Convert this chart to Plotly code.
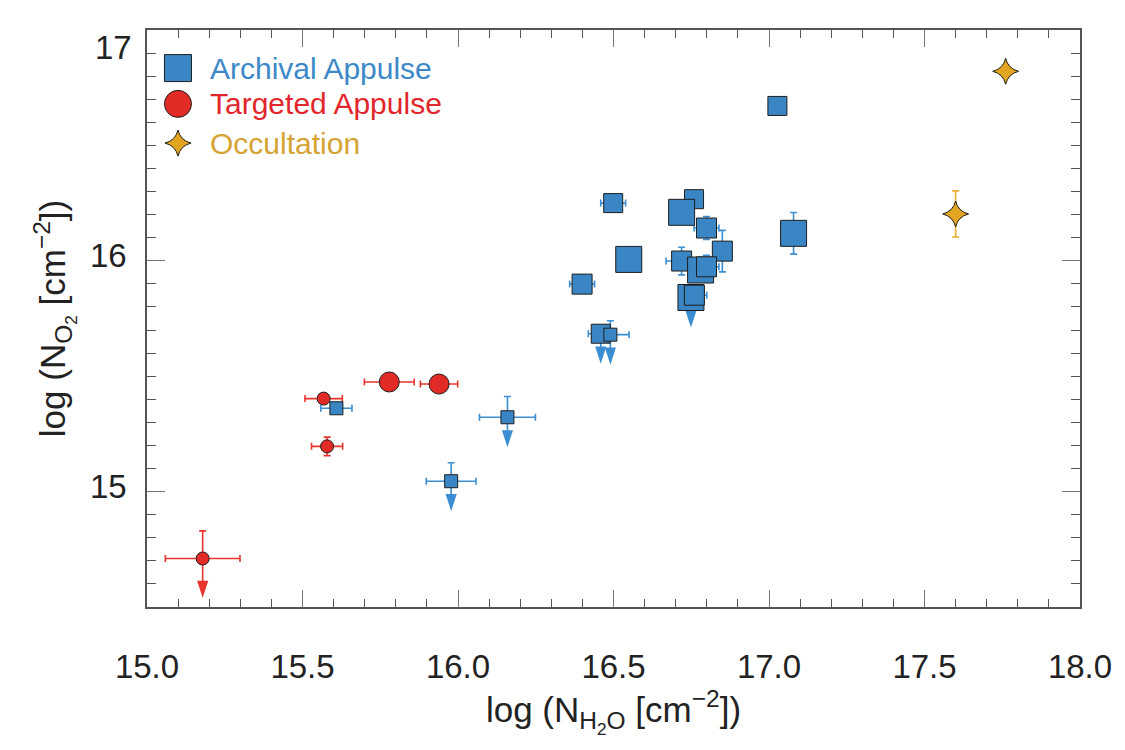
import plotly.graph_objects as go

# ---------------- data ----------------
series_names = ["Archival Appulse", "Targeted Appulse", "Occultation"]

blue_x = [16.499, 16.759, 16.719, 16.799, 16.549, 17.079, 16.850, 16.719, 16.780, 16.799,
          16.749, 16.760, 16.399, 16.459, 16.490, 15.609, 16.159, 15.978, 17.027]
blue_y = [16.250, 16.267, 16.210, 16.142, 16.006, 16.119, 16.042, 15.999, 15.960, 15.974,
          15.841, 15.851, 15.899, 15.684, 15.680, 15.361, 15.322, 15.045, 16.671]
blue_xerr = [0.04, 0.02, 0.03, 0.04, 0.02, 0.02, 0.02, 0.05, 0.03, 0.04,
             0.03, 0.04, 0.04, 0.04, 0.06, 0.05, 0.09, 0.08, 0.02]
blue_yerr = [0.03, 0.02, 0.03, 0.05, 0.02, 0.09, 0.09, 0.06, 0.03, 0.05,
             0.03, 0.03, 0.04, 0.03, 0.06, 0.02, 0.09, 0.08, 0.02]
blue_size = [19, 19, 26, 20, 26, 26, 20, 20, 26, 20, 26, 20, 20, 19, 13, 13, 13, 13, 19]
blue_limit = [0, 0, 0, 0, 0, 0, 0, 0, 0, 0, 1, 0, 0, 1, 1, 0, 1, 1, 0]

red_x = [15.179, 15.568, 15.579, 15.779, 15.939]
red_y = [14.710, 15.403, 15.196, 15.475, 15.466]
red_xerr = [0.12, 0.06, 0.05, 0.08, 0.06]
red_yerr = [0.12, 0.01, 0.04, 0.01, 0.01]
red_size = [13, 13, 13, 20, 20]
red_limit = [1, 0, 0, 0, 0]

gold_x = [17.761, 17.600]
gold_y = [16.821, 16.203]
gold_yerr = [0.0, 0.10]

x_ticks = [15.0, 15.5, 16.0, 16.5, 17.0, 17.5, 18.0]
x_ticktext = ["15.0", "15.5", "16.0", "16.5", "17.0", "17.5", "18.0"]
y_ticks = [15, 16]
y_ticktext = ["15", "16"]
y_top_label = "17"

# ---------------- style ----------------
BLUE = "#3A86C4"
BLUE_E = "#3B8ED2"
RED = "#E22B26"
RED_E = "#E8342C"
GOLD = "#E1A520"
GOLD_E = "#EBAF2C"
EDGE = "#1E1E1E"
FONT = "Liberation Sans, Arial, Helvetica, sans-serif"
BLUE_T = "#3C88C8"
RED_T = "#E2262B"
GOLD_T = "#D6A332"

BLUE_ARROW = 0.13
RED_ARROW = 0.17

fig = go.Figure()


def limit_traces(xs, ys, lim, L, color):
    sx, sy, ax, ay = [], [], [], []
    for x, y, f in zip(xs, ys, lim):
        if f:
            sx += [x, x, None]
            sy += [y, y - L + 0.03, None]
            ax.append(x)
            ay.append(y - L)
    fig.add_trace(go.Scatter(x=sx, y=sy, mode="lines", line=dict(color=color, width=1.6),
                             showlegend=False, hoverinfo="skip"))
    fig.add_trace(go.Scatter(x=ax, y=ay, mode="markers",
                             marker=dict(symbol="arrow", angle=180, size=18, color=color,
                                         opacity=1, line=dict(width=0)),
                             showlegend=False, hoverinfo="skip"))


# red
limit_traces(red_x, red_y, red_limit, RED_ARROW, RED_E)
fig.add_trace(go.Scatter(
    x=red_x, y=red_y, mode="markers", name=series_names[1], showlegend=False,
    marker=dict(symbol="circle", size=red_size, color=RED, opacity=1,
                line=dict(color=EDGE, width=1)),
    error_x=dict(type="data", array=red_xerr, color=RED_E, thickness=1.6, width=3.5),
    error_y=dict(type="data", array=red_yerr,
                 arrayminus=[0 if f else e for e, f in zip(red_yerr, red_limit)],
                 symmetric=False, color=RED_E, thickness=1.6, width=3.5),
))

# blue
limit_traces(blue_x, blue_y, blue_limit, BLUE_ARROW, BLUE_E)
fig.add_trace(go.Scatter(
    x=blue_x, y=blue_y, mode="markers", name=series_names[0], showlegend=False,
    marker=dict(symbol="square", size=blue_size, color=BLUE, opacity=1,
                line=dict(color=EDGE, width=1)),
    error_x=dict(type="data", array=blue_xerr, color=BLUE_E, thickness=1.6, width=3.5),
    error_y=dict(type="data", array=blue_yerr,
                 arrayminus=[0 if f else e for e, f in zip(blue_yerr, blue_limit)],
                 symmetric=False, color=BLUE_E, thickness=1.6, width=3.5),
))

# gold
fig.add_trace(go.Scatter(
    x=gold_x, y=gold_y, mode="markers", name=series_names[2], showlegend=False,
    marker=dict(symbol="star-diamond", size=18.5, color=GOLD, opacity=1,
                line=dict(color=EDGE, width=1)),
    error_y=dict(type="data", array=gold_yerr, color=GOLD_E, thickness=1.6, width=3.5),
))

# custom legend (large symbols) on a hidden overlay axis
leg_y = [0.934, 0.872, 0.804]
fig.add_trace(go.Scatter(
    x=[0.0332] * 3, y=leg_y, xaxis="x2", yaxis="y2", mode="markers", showlegend=False,
    hoverinfo="skip",
    marker=dict(symbol=["square", "circle", "star-diamond"], size=[27, 27, 18.6],
                color=[BLUE, RED, GOLD], opacity=1, line=dict(color=EDGE, width=1)),
))
for name, yy, col in zip(series_names, leg_y, [BLUE_T, RED_T, GOLD_T]):
    fig.add_annotation(x=0.0654, y=yy, xref="paper", yref="paper", text=name,
                       showarrow=False, xanchor="left", yanchor="middle",
                       font=dict(family=FONT, size=30, color=col))

# the "17" label sits below its tick in the reference
fig.add_annotation(x=0, y=17, xref="paper", yref="y", text=y_top_label, showarrow=False,
                   xanchor="right", yanchor="middle", xshift=-13, yshift=-17,
                   font=dict(family=FONT, size=33, color="#222222"))

axis_common = dict(showgrid=False, zeroline=False, showline=True, linecolor="#555555",
                   linewidth=1.5, mirror="allticks", ticks="inside", tickcolor="#777777",
                   tickwidth=1, tickfont=dict(family=FONT, size=33, color="#222222"))

fig.update_layout(
    width=1125, height=750,
    margin=dict(l=147, r=45, t=30, b=143),
    paper_bgcolor="white", plot_bgcolor="white",
    font=dict(family=FONT, color="#222222"),
    showlegend=False,
    xaxis=dict(range=[15, 18], tickvals=x_ticks, ticktext=x_ticktext, ticklen=17,
               minor=dict(dtick=0.1, tick0=15, ticks="inside", ticklen=8, tickcolor="#555555",
                          tickwidth=1),
               ticklabelstandoff=30,
               title=dict(text="log (N<sub>H<sub>2</sub>O</sub> [cm<sup>−2</sup>])",
                          font=dict(family=FONT, size=35, color="#222222"), standoff=12),
               **axis_common),
    yaxis=dict(range=[14.5, 17], tickvals=y_ticks, ticktext=y_ticktext, ticklen=18,
               minor=dict(dtick=0.1, tick0=15, ticks="inside", ticklen=9, tickcolor="#555555",
                          tickwidth=1),
               ticklabelstandoff=12, ticklabelshift=-5,
               title=dict(text="log (N<sub>O<sub>2</sub></sub> [cm<sup>−2</sup>])",
                          font=dict(family=FONT, size=35, color="#222222"), standoff=14),
               **axis_common),
    xaxis2=dict(overlaying="x", range=[0, 1], visible=False),
    yaxis2=dict(overlaying="y", range=[0, 1], visible=False),
)

fig.write_html("out.html")
